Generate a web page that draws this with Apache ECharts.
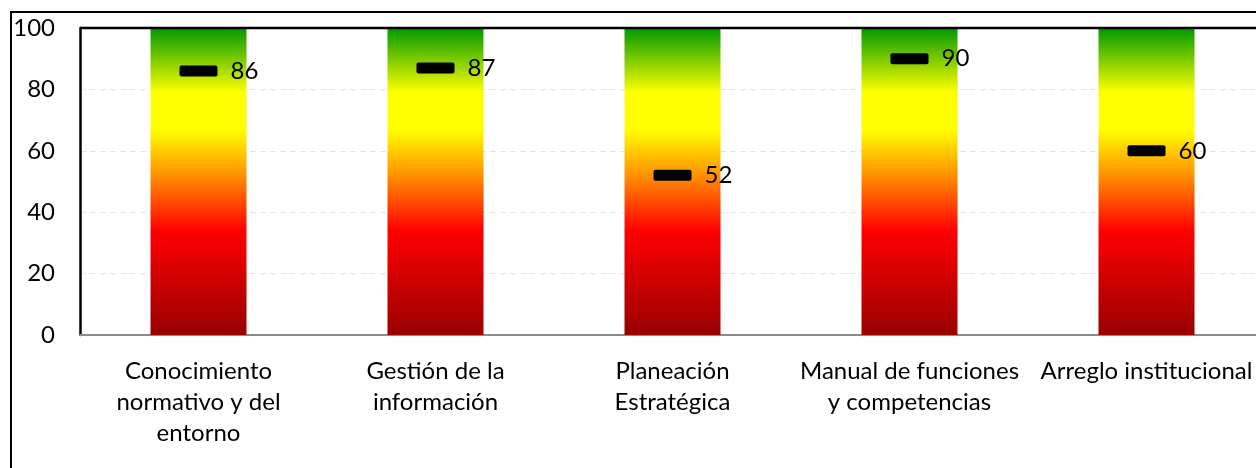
<!DOCTYPE html>
<html>
<head>
<meta charset="utf-8">
<script src="https://cdn.jsdelivr.net/npm/echarts@6/dist/echarts.min.js"></script>
<style>
  html, body { margin: 0; padding: 0; background: #fff; }
  #chart { width: 1256px; height: 468px; }
</style>
</head>
<body>
<div id="chart"></div>
<script>
// Dimensions scored on a 0–100 scale
const categories = [
  'Conocimiento\nnormativo y del\nentorno',
  'Gestión de la\ninformación',
  'Planeación\nEstratégica',
  'Manual de funciones\ny competencias',
  'Arreglo institucional'
];
const scores = [86, 87, 52, 90, 60];
const bandTop = [100, 100, 100, 100, 100];
const yTicks = [0, 20, 40, 60, 80, 100];

const font = 'Lato, "Open Sans", sans-serif';

// Traffic-light band: green at the top, yellow, orange, red, dark red at the base
const band = new echarts.graphic.LinearGradient(0, 0, 0, 1, [
  { offset: 0.00, color: '#009900' },
  { offset: 0.21, color: '#ffff00' },
  { offset: 0.33, color: '#ffff00' },
  { offset: 0.47, color: '#ff9900' },
  { offset: 0.66, color: '#ff0000' },
  { offset: 0.74, color: '#e80000' },
  { offset: 1.00, color: '#990000' }
]);

const chart = echarts.init(document.getElementById('chart'), null, { renderer: 'canvas' });
chart.setOption({
  animation: false,
  backgroundColor: '#ffffff',
  grid: {
    left: 80, top: 28, width: 1185, height: 307,
    containLabel: false,
    outerBoundsMode: 'none',
    show: false
  },
  graphic: [
    {
      type: 'rect',
      shape: { x: 11, y: 12, width: 1400, height: 600 },
      style: { fill: 'none', stroke: '#000', lineWidth: 2 },
      z: 100
    },
    {
      // top edge of the plot frame
      type: 'line',
      shape: { x1: 80, y1: 28, x2: 1300, y2: 28 },
      style: { stroke: '#000', lineWidth: 2.5 },
      z: 100
    }
  ],
  xAxis: {
    type: 'category',
    data: categories,
    axisLine: { show: true, lineStyle: { color: '#8c8c8c', width: 2 } },
    axisTick: { show: false },
    axisLabel: {
      color: '#000', fontFamily: font, fontSize: 24, lineHeight: 31,
      margin: 21, interval: 0
    }
  },
  yAxis: {
    type: 'value',
    min: yTicks[0], max: yTicks[yTicks.length - 1], interval: 20,
    axisLine: { show: true, lineStyle: { color: '#000', width: 2.5 } },
    axisTick: { show: false },
    axisLabel: { color: '#000', fontFamily: font, fontSize: 24, margin: 25 },
    splitLine: { showMaxLine: false, lineStyle: { color: '#e4e4e4', type: [6, 4], width: 1 } }
  },
  series: [
    {
      type: 'bar',
      data: bandTop,
      barWidth: 96,
      itemStyle: { color: band },
      silent: true
    },
    {
      type: 'scatter',
      data: scores,
      symbol: 'path://M2,0 H36 A2,2 0 0 1 38,2 V9 A2,2 0 0 1 36,11 H2 A2,2 0 0 1 0,9 V2 A2,2 0 0 1 2,0 Z',
      symbolSize: [38, 11],
      itemStyle: { color: '#000', opacity: 1 },
      z: 5,
      label: {
        show: true,
        position: 'right',
        distance: 13,
        color: '#000',
        fontFamily: font,
        fontSize: 24
      }
    }
  ]
});
</script>
</body>
</html>
